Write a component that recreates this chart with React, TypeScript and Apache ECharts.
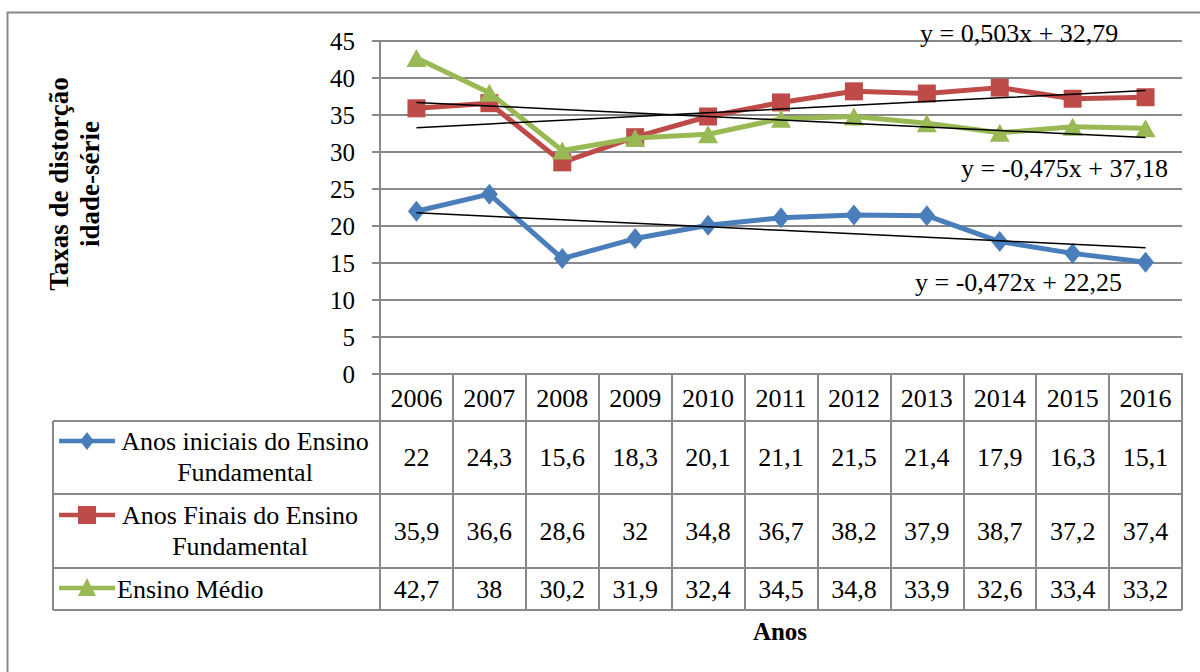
import React, { useEffect, useRef } from "react";
import * as echarts from "echarts";

const years = ["2006", "2007", "2008", "2009", "2010", "2011", "2012", "2013", "2014", "2015", "2016"];
const anosIniciais = [22, 24.3, 15.6, 18.3, 20.1, 21.1, 21.5, 21.4, 17.9, 16.3, 15.1];
const anosFinais = [35.9, 36.6, 28.6, 32, 34.8, 36.7, 38.2, 37.9, 38.7, 37.2, 37.4];
const ensinoMedio = [42.7, 38, 30.2, 31.9, 32.4, 34.5, 34.8, 33.9, 32.6, 33.4, 33.2];
const seriesNames = [
  "Anos iniciais do Ensino\nFundamental",
  "Anos Finais do Ensino\nFundamental",
  "Ensino Médio",
];
const seriesColors = ["#4A7EBB", "#BE4B48", "#98B954"];
// Linear trend lines: y = slope * x + intercept, x = 1..11
const trendSlopes = [-0.472, 0.503, -0.475];
const trendIntercepts = [22.25, 32.79, 37.18];
const trendLabels = ["y = -0,472x + 22,25", "y = 0,503x + 32,79", "y = -0,475x + 37,18"];
const yTicks = { min: 0, max: 45, interval: 5 };

const FONT = "Liberation Serif";
const GRAY = "#898989";

function txt(x: number, y: number, text: string, size: number, opts: any = {}) {
  return {
    type: "text",
    x,
    y,
    rotation: opts.rotation || 0,
    style: {
      text,
      fontFamily: FONT,
      fontSize: size,
      fontWeight: opts.bold ? "bold" : "normal",
      lineHeight: opts.lineHeight,
      fill: "#000",
      textAlign: opts.align || "center",
      textVerticalAlign: "middle",
    },
  };
}

export default function App() {
  const ref = useRef<HTMLDivElement>(null);

  useEffect(() => {
    if (!ref.current) return;
    const chart = echarts.init(ref.current, undefined, { renderer: "svg" });
    const allSeries = [anosIniciais, anosFinais, ensinoMedio];
    const symbols = ["diamond", "rect", "triangle"];
    const symbolSizes: any[] = [[17, 21], [18, 18], [20, 18]];

    const gridLeft = 380;
    const gridTop = 41;
    const gridRight = 1182;
    const gridBottom = 374;
    const tableBottom = 610;
    const rowLines = [421, 494, 568, 610];

    chart.setOption({
      animation: false,
      textStyle: { fontFamily: FONT },
      grid: { left: gridLeft, top: gridTop, width: gridRight - gridLeft, height: gridBottom - gridTop, containLabel: false },
      xAxis: {
        type: "category",
        data: years,
        boundaryGap: true,
        axisLine: { show: true, lineStyle: { color: GRAY, width: 2 } },
        axisTick: { show: true, length: tableBottom - gridBottom, lineStyle: { color: GRAY, width: 2 } },
        axisLabel: { color: "#000", fontSize: 26, fontFamily: FONT, margin: 11 },
        splitLine: { show: false },
      },
      yAxis: {
        type: "value",
        min: yTicks.min,
        max: yTicks.max,
        interval: yTicks.interval,
        axisLine: { show: true, lineStyle: { color: GRAY, width: 2 } },
        axisTick: { show: true, length: 8, lineStyle: { color: GRAY, width: 2 } },
        axisLabel: { color: "#000", fontSize: 25, fontFamily: FONT, margin: 25 },
        splitLine: { show: true, lineStyle: { color: GRAY, width: 2 } },
      },
      series: [
        ...allSeries.map((data, i) => ({
          name: seriesNames[i],
          type: "line",
          data,
          symbol: symbols[i],
          symbolSize: symbolSizes[i],
          showAllSymbol: true,
          lineStyle: { color: seriesColors[i], width: 5 },
          itemStyle: { color: seriesColors[i] },
          z: 2 + i,
        })),
        ...trendSlopes.map((slope, i) => ({
          name: "trend" + i,
          type: "line",
          data: years.map((_, k) => +(slope * (k + 1) + trendIntercepts[i]).toFixed(4)),
          symbol: "none",
          lineStyle: { color: "#000", width: 1.5 },
          z: 10,
        })),
      ],
    });

    const xs = years.map((y) => chart.convertToPixel({ xAxisIndex: 0 }, y) as number);
    const rowCenters = [457, 531, 589];
    const legendY = [441, 515, 588];
    const tableLeft = 53;

    const graphics: any[] = [];
    // outer frame
    graphics.push({
      type: "rect",
      shape: { x: 7.5, y: 12.5, width: 1200, height: 700 },
      style: { fill: "none", stroke: GRAY, lineWidth: 2 },
      silent: true,
    });
    // table horizontal rules
    rowLines.forEach((y) => {
      graphics.push({
        type: "line",
        shape: { x1: tableLeft, y1: y, x2: gridRight, y2: y },
        style: { stroke: GRAY, lineWidth: 2 },
      });
    });
    graphics.push({
      type: "line",
      shape: { x1: tableLeft, y1: rowLines[0], x2: tableLeft, y2: tableBottom },
      style: { stroke: GRAY, lineWidth: 2 },
    });
    // table values
    allSeries.forEach((data, r) => {
      data.forEach((v, c) => {
        graphics.push(txt(xs[c], rowCenters[r], String(v).replace(".", ","), 26));
      });
    });
    // legend keys inside the table
    legendY.forEach((y, r) => {
      graphics.push({
        type: "line",
        shape: { x1: 59, y1: y, x2: 115, y2: y },
        style: { stroke: seriesColors[r], lineWidth: 4.5 },
      });
    });
    graphics.push({
      type: "polygon",
      shape: { points: [[87, legendY[0] - 9], [94, legendY[0]], [87, legendY[0] + 9], [80, legendY[0]]] },
      style: { fill: seriesColors[0] },
    });
    graphics.push({
      type: "rect",
      shape: { x: 78, y: legendY[1] - 9, width: 18, height: 18 },
      style: { fill: seriesColors[1] },
    });
    graphics.push({
      type: "polygon",
      shape: { points: [[87, legendY[2] - 10], [96, legendY[2] + 8], [78, legendY[2] + 8]] },
      style: { fill: seriesColors[2] },
    });
    // row labels
    const labelX = [245, 240, 117];
    seriesNames.forEach((name, r) => {
      graphics.push(txt(labelX[r], rowCenters[r], name, 26, { lineHeight: 31, align: r < 2 ? "center" : "left" }));
    });
    // trend equations
    const eqPos = [
      [915, 282],
      [920, 33],
      [961, 168],
    ];
    trendLabels.forEach((t, i) => {
      graphics.push(txt(eqPos[i][0], eqPos[i][1], t, 26, { align: "left" }));
    });
    // axis titles
    graphics.push(txt(74, 184, "Taxas de distorção\nidade-série", 27, { bold: true, lineHeight: 31, rotation: Math.PI / 2 }));
    graphics.push(txt(780, 631, "Anos", 25, { bold: true }));

    chart.setOption({ graphic: graphics });

    return () => chart.dispose();
  }, []);

  return (
    <div
      ref={ref}
      style={{ position: "fixed", left: 0, top: 0, width: 1200, height: 672, background: "#fff" }}
    />
  );
}
